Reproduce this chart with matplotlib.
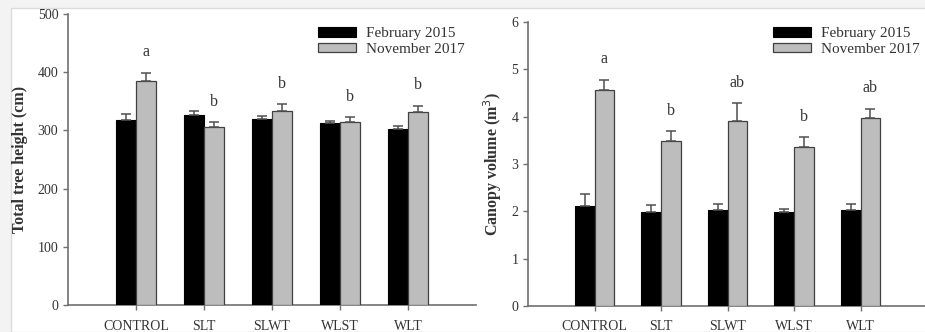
import matplotlib
matplotlib.use("Agg")
import matplotlib.pyplot as plt
import numpy as np
from matplotlib.patches import Rectangle

categories = ["CONTROL", "SLT", "SLWT", "WLST", "WLT"]
series_names = ["February 2015", "November 2017"]

height_feb = [318, 326, 319, 312, 302]
height_feb_err = [10, 7, 6, 5, 6]
height_nov = [385, 305, 334, 314, 332]
height_nov_err = [14, 9, 11, 9, 10]
height_letters = ["a", "b", "b", "b", "b"]

canopy_feb = [2.12, 1.99, 2.03, 1.98, 2.03]
canopy_feb_err = [0.24, 0.15, 0.13, 0.07, 0.12]
canopy_nov = [4.56, 3.48, 3.91, 3.36, 3.97]
canopy_nov_err = [0.22, 0.21, 0.37, 0.20, 0.20]
canopy_letters = ["a", "b", "ab", "b", "ab"]

plt.rcParams['font.family'] = ['Liberation Serif', 'DejaVu Serif']

fig = plt.figure(figsize=(9.25, 3.32), dpi=100)
fig.patch.set_facecolor('#f3f3f3')
bg = Rectangle((11/925, 0.0), 1 - 11/925 + 0.01, (332 - 8) / 332,
               transform=fig.transFigure, facecolor='white',
               edgecolor='#dcdcdc', linewidth=1.0, zorder=-10)
fig.patches.append(bg)

ax1 = fig.add_axes([68/925, 27/332, 408/925, 291/332])
ax2 = fig.add_axes([528/925, 26/332, 399/925, 284/332])

TXT = '#333333'
SP = '#707070'

def draw(ax, feb, feberr, nov, noverr, letters, ylim, yticks, ylabel, legx, legy, lpad, xpad):
    x = np.arange(1, len(categories) + 1)
    w = 0.3
    ax.set_facecolor('none')
    ek = dict(ecolor='#505050', elinewidth=1.1, capsize=3.5, capthick=1.1)
    ax.bar(x - w/2, feb, w, color='black', edgecolor='black', linewidth=0.8,
           yerr=[np.zeros(len(feb)), feberr], error_kw=ek, label=series_names[0], zorder=3)
    ax.bar(x + w/2, nov, w, color='#bdbdbd', edgecolor='#404040', linewidth=0.9,
           yerr=[np.zeros(len(nov)), noverr], error_kw=ek, label=series_names[1], zorder=3)
    for xi, v, e, t in zip(x, nov, noverr, letters):
        ax.annotate(t, (xi + w/2, v + e), xytext=(0, 9), textcoords='offset points',
                    ha='center', va='bottom', fontsize=11.5, color=TXT)
    ax.set_xlim(0, 6)
    ax.set_ylim(*ylim)
    ax.set_yticks(yticks)
    ax.set_xticks(x)
    ax.set_xticklabels(categories)
    for s in ['top', 'right']:
        ax.spines[s].set_visible(False)
    for s in ['left', 'bottom']:
        ax.spines[s].set_color(SP)
        ax.spines[s].set_linewidth(1.2)
    ax.tick_params(axis='both', colors=SP, labelcolor=TXT, labelsize=10, length=3.5, width=1)
    ax.tick_params(axis='x', pad=xpad)
    ax.set_ylabel(ylabel, fontsize=11.5, fontweight='bold', color=TXT, labelpad=lpad)
    leg = ax.legend(loc='upper left', bbox_to_anchor=(legx, legy), frameon=False,
                    fontsize=11, handlelength=2.5, handleheight=0.6, handletextpad=0.65,
                    labelspacing=0.15, borderpad=0, borderaxespad=0)
    for t in leg.get_texts():
        t.set_color(TXT)

draw(ax1, height_feb, height_feb_err, height_nov, height_nov_err, height_letters,
     (0, 500), [0, 100, 200, 300, 400, 500], "Total tree height (cm)", 0.613, 0.955, 7, 7)
draw(ax2, canopy_feb, canopy_feb_err, canopy_nov, canopy_nov_err, canopy_letters,
     (0, 6), [0, 1, 2, 3, 4, 5, 6], "Canopy volume (m$^3$)", 0.614, 0.982, 5, 6.5)
ax1.set_zorder(2)

fig.savefig("out.png", dpi=100, facecolor=fig.get_facecolor())
